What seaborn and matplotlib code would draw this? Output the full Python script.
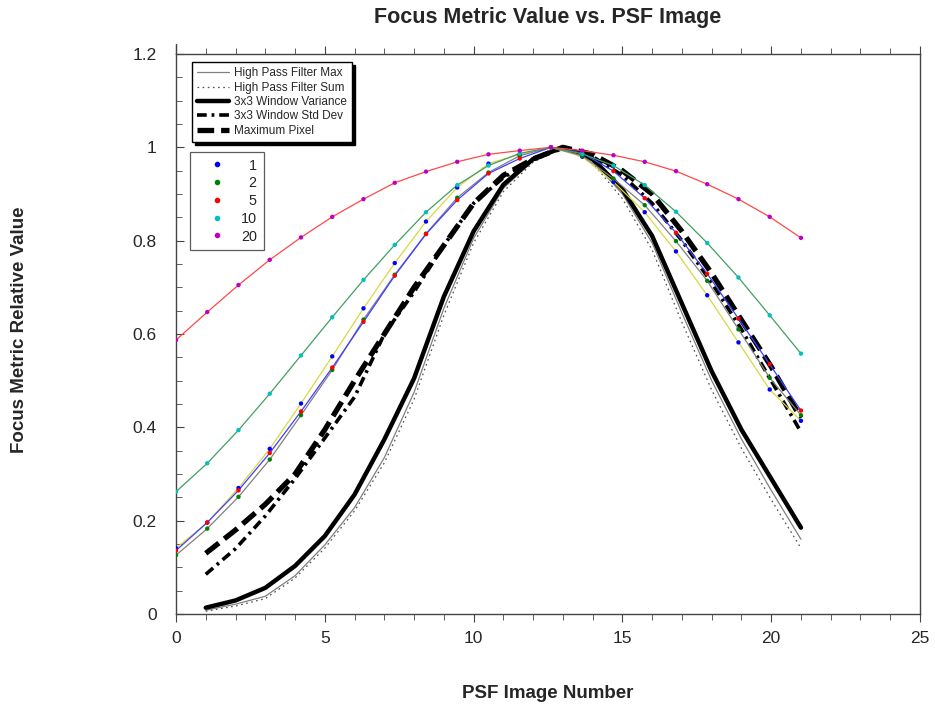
import numpy as np
import pandas as pd
import matplotlib
matplotlib.use("Agg")
import matplotlib.pyplot as plt
from matplotlib.lines import Line2D
from matplotlib.ticker import MultipleLocator, FormatStrFormatter
import seaborn as sns

# colored series (sampled every 1.05 image numbers)
x_col = [0, 1.05, 2.1, 3.15, 4.2, 5.25, 6.3, 7.35, 8.4, 9.45, 10.5,
         11.55, 12.6, 13.65, 14.7, 15.75, 16.8, 17.85, 18.9, 19.95, 21.0]
s1 = [0.141, 0.196, 0.270, 0.354, 0.451, 0.552, 0.655, 0.752, 0.841, 0.914, 0.965,
      0.985, 1.0, 0.980, 0.926, 0.861, 0.777, 0.683, 0.582, 0.481, 0.414]
s2 = [0.126, 0.183, 0.251, 0.331, 0.426, 0.523, 0.631, 0.727, 0.815, 0.892, 0.946,
      0.982, 1.0, 0.982, 0.933, 0.876, 0.799, 0.714, 0.610, 0.506, 0.426]
s5 = [0.136, 0.196, 0.265, 0.345, 0.434, 0.528, 0.626, 0.725, 0.814, 0.887, 0.944,
      0.976, 1.0, 0.988, 0.949, 0.891, 0.817, 0.729, 0.633, 0.535, 0.436]
s10 = [0.262, 0.323, 0.394, 0.472, 0.554, 0.636, 0.716, 0.791, 0.861, 0.919, 0.961,
       0.987, 1.0, 0.986, 0.961, 0.919, 0.862, 0.795, 0.721, 0.640, 0.558]
s20 = [0.587, 0.647, 0.705, 0.759, 0.807, 0.851, 0.889, 0.924, 0.948, 0.969, 0.985,
       0.993, 1.0, 0.993, 0.983, 0.969, 0.949, 0.921, 0.889, 0.851, 0.806]
series_names = ["1", "2", "5", "10", "20"]
line_colors = ["#d8d840", "#808080", "#4040ff", "#40a060", "#ff4848"]
marker_colors = ["#0000ff", "#008000", "#ff0000", "#00c0c0", "#c000c0"]

# focus metrics (one per PSF image)
x_img = list(range(1, 22))
hpf_max = [0.008, 0.021, 0.038, 0.082, 0.148, 0.228, 0.335, 0.475, 0.655, 0.805, 0.912,
           0.972, 1.0, 0.970, 0.900, 0.795, 0.645, 0.500, 0.375, 0.265, 0.160]
hpf_sum = [0.006, 0.017, 0.033, 0.077, 0.141, 0.221, 0.324, 0.460, 0.640, 0.795, 0.905,
           0.968, 1.0, 0.966, 0.890, 0.780, 0.625, 0.480, 0.355, 0.245, 0.141]
win_var = [0.0135, 0.029, 0.056, 0.103, 0.167, 0.256, 0.374, 0.505, 0.680, 0.820, 0.920,
           0.975, 1.0, 0.975, 0.910, 0.810, 0.665, 0.520, 0.395, 0.290, 0.185]
win_std = [0.085, 0.140, 0.210, 0.290, 0.377, 0.465, 0.600, 0.690, 0.790, 0.880, 0.935,
           0.975, 1.0, 0.980, 0.940, 0.880, 0.800, 0.710, 0.610, 0.500, 0.390]
max_pix = [0.130, 0.180, 0.235, 0.300, 0.395, 0.500, 0.600, 0.700, 0.790, 0.880, 0.940,
           0.975, 1.0, 0.985, 0.950, 0.900, 0.820, 0.730, 0.630, 0.530, 0.420]
metric_names = ["High Pass Filter Max", "High Pass Filter Sum", "3x3 Window Variance",
                "3x3 Window Std Dev", "Maximum Pixel"]

sns.set_style("ticks")
plt.rcParams["font.family"] = ["Liberation Sans", "DejaVu Sans"]
plt.rcParams["lines.scale_dashes"] = False

df_col = pd.DataFrame({
    "x": x_col * 5,
    "value": s1 + s2 + s5 + s10 + s20,
    "series": [n for n in series_names for _ in x_col],
})
df_met = pd.DataFrame({
    "x": x_img * 5,
    "value": hpf_max + hpf_sum + win_var + win_std + max_pix,
    "metric": [m for m in metric_names for _ in x_img],
})

met_style = {
    "High Pass Filter Max": dict(color="#808080", lw=0.9, ls="-"),
    "High Pass Filter Sum": dict(color="#505050", lw=0.9, ls=(0, (1.2, 2.5))),
    "3x3 Window Variance": dict(color="black", lw=3.2, ls="-"),
    "3x3 Window Std Dev": dict(color="black", lw=2.6, ls=(0, (7, 3.5, 2, 3.5))),
    "Maximum Pixel": dict(color="black", lw=3.8, ls=(0, (12, 5))),
}

fig, ax = plt.subplots(figsize=(9.35, 7.11), dpi=100)
fig.subplots_adjust(left=176/935, right=920/935, top=1-54/711, bottom=1-614/711)

for m in metric_names:
    st = met_style[m]
    sns.lineplot(data=df_met[df_met["metric"] == m], x="x", y="value", ax=ax,
                 color=st["color"], linewidth=st["lw"], linestyle=st["ls"],
                 legend=False, zorder=2)

sns.lineplot(data=df_col, x="x", y="value", hue="series", hue_order=series_names,
             palette=line_colors, linewidth=0.9, legend=False, ax=ax, zorder=3)
sns.scatterplot(data=df_col, x="x", y="value", hue="series", hue_order=series_names,
                palette=marker_colors, s=10, linewidth=0, legend=False, ax=ax, zorder=4)

ax.set_xlim(0, 25)
ax.set_ylim(0, 1.2)
ax.xaxis.set_major_locator(MultipleLocator(5))
ax.xaxis.set_minor_locator(MultipleLocator(1))
ax.yaxis.set_major_locator(MultipleLocator(0.2))
ax.yaxis.set_minor_locator(MultipleLocator(0.05))
ax.yaxis.set_major_formatter(FormatStrFormatter("%g"))
ax.tick_params(axis="x", which="both", direction="out", top=True, labelsize=12.5,
               color="#444444", pad=6)
ax.tick_params(axis="x", which="major", length=6)
ax.tick_params(axis="x", which="minor", length=4)
ax.tick_params(axis="y", which="both", direction="in", labelsize=12.5,
               color="#444444", pad=14)
ax.tick_params(axis="y", which="major", length=6)
ax.tick_params(axis="y", which="minor", length=4)
for sp in ax.spines.values():
    sp.set_visible(True)
    sp.set_color("#444444")
    sp.set_linewidth(1.0)
ax.set_xlabel("")
ax.set_ylabel("")
ax.plot([0, 0], [1.0, 1.017], transform=ax.transAxes, color="#444444", lw=1.0,
        clip_on=False)

fig.text(547.5/935, 1-18/711, "Focus Metric Value vs. PSF Image", ha="center",
         va="center", fontsize=15.5, fontweight="bold")
fig.text(548/935, 1-693/711, "PSF Image Number", ha="center", va="center",
         fontsize=13.5, fontweight="bold")
fig.text(20/935, 1-330/711, "Focus Metric Relative Value", ha="center", va="center",
         rotation=90, fontsize=13.5, fontweight="bold")

# legend of point colours
h2 = [Line2D([], [], ls="none", marker="o", ms=3, color=c) for c in marker_colors]
lab2 = ["  1", "  2", "  5", "10", "20"]
leg2 = ax.legend(h2, lab2, loc="upper left", bbox_to_anchor=(14/744, 1-98/560),
                 fontsize=10.4, frameon=True, fancybox=False, edgecolor="#333333",
                 handlelength=2.9, handletextpad=0.2, borderpad=0.45, labelspacing=0.26,
                 borderaxespad=0)
leg2.get_frame().set_linewidth(0.9)
ax.add_artist(leg2)

h1 = [Line2D([], [], color=met_style[m]["color"], lw=met_style[m]["lw"],
             ls=met_style[m]["ls"]) for m in metric_names]
leg1 = ax.legend(h1, metric_names, loc="upper left", bbox_to_anchor=(16/744, 1-8/560),
                 fontsize=8.5, frameon=True, fancybox=False, edgecolor="black",
                 handlelength=2.7, handletextpad=0.4, borderpad=0.45, labelspacing=0.2,
                 borderaxespad=0, shadow={"color": "black", "alpha": 1})
leg1.get_frame().set_linewidth(1.0)

fig.savefig("out.png", dpi=100, facecolor="white")
